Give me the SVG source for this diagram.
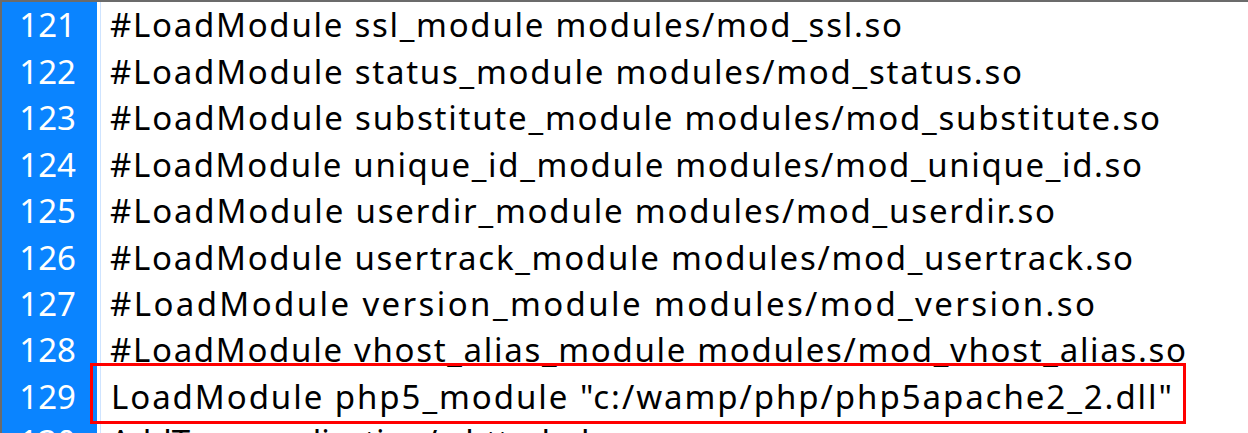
<svg xmlns="http://www.w3.org/2000/svg" width="1248" height="433" viewBox="0 0 1248 433">
<style>
.num{font-family:"Noto Sans","Open Sans",sans-serif;font-size:33px;fill:#ffffff;text-anchor:end}
.code{font-family:"Noto Sans","Open Sans",sans-serif;font-size:33px;fill:#000000}
</style>
<rect x="0" y="0" width="1248" height="433" fill="#ffffff"/>
<rect x="0" y="0" width="97" height="433" fill="#0a84ff"/>
<rect x="0" y="0" width="2" height="433" fill="#6b6b6b"/>
<line x1="100.5" y1="0" x2="100.5" y2="433" stroke="#cfe4ff" stroke-width="1"/>
<rect x="0" y="0" width="1248" height="2" fill="#6b6b6b"/>
<g id="gutter">
<text class="num" x="76" y="37">121</text>
<text class="num" x="76" y="83.5">122</text>
<text class="num" x="76" y="130">123</text>
<text class="num" x="76" y="176.5">124</text>
<text class="num" x="76" y="223">125</text>
<text class="num" x="76" y="269.5">126</text>
<text class="num" x="76" y="316">127</text>
<text class="num" x="76" y="362">128</text>
<text class="num" x="76" y="409">129</text>
<text class="num" x="76" y="454">130</text>
</g>
<g id="code">
<text class="code" x="110" y="37" textLength="792" lengthAdjust="spacing">#LoadModule ssl_module modules/mod_ssl.so</text>
<text class="code" x="110" y="83.5" textLength="912" lengthAdjust="spacing">#LoadModule status_module modules/mod_status.so</text>
<text class="code" x="110" y="130" textLength="1050" lengthAdjust="spacing">#LoadModule substitute_module modules/mod_substitute.so</text>
<text class="code" x="110" y="176.5" textLength="1032" lengthAdjust="spacing">#LoadModule unique_id_module modules/mod_unique_id.so</text>
<text class="code" x="110" y="223" textLength="945" lengthAdjust="spacing">#LoadModule userdir_module modules/mod_userdir.so</text>
<text class="code" x="110" y="269.5" textLength="1023" lengthAdjust="spacing">#LoadModule usertrack_module modules/mod_usertrack.so</text>
<text class="code" x="110" y="316" textLength="985" lengthAdjust="spacing">#LoadModule version_module modules/mod_version.so</text>
<text class="code" x="110" y="362" textLength="1076" lengthAdjust="spacing">#LoadModule vhost_alias_module modules/mod_vhost_alias.so</text>
<text class="code" x="111" y="409" textLength="1061" lengthAdjust="spacing">LoadModule php5_module "c:/wamp/php/php5apache2_2.dll"</text>
<text class="code" x="110" y="454">AddType application/x-httpd-php</text>
</g>
<g id="highlight">
<rect x="91.5" y="364.5" width="1093" height="58" fill="none" stroke="#ff0000" stroke-width="3"/>
</g>
</svg>
